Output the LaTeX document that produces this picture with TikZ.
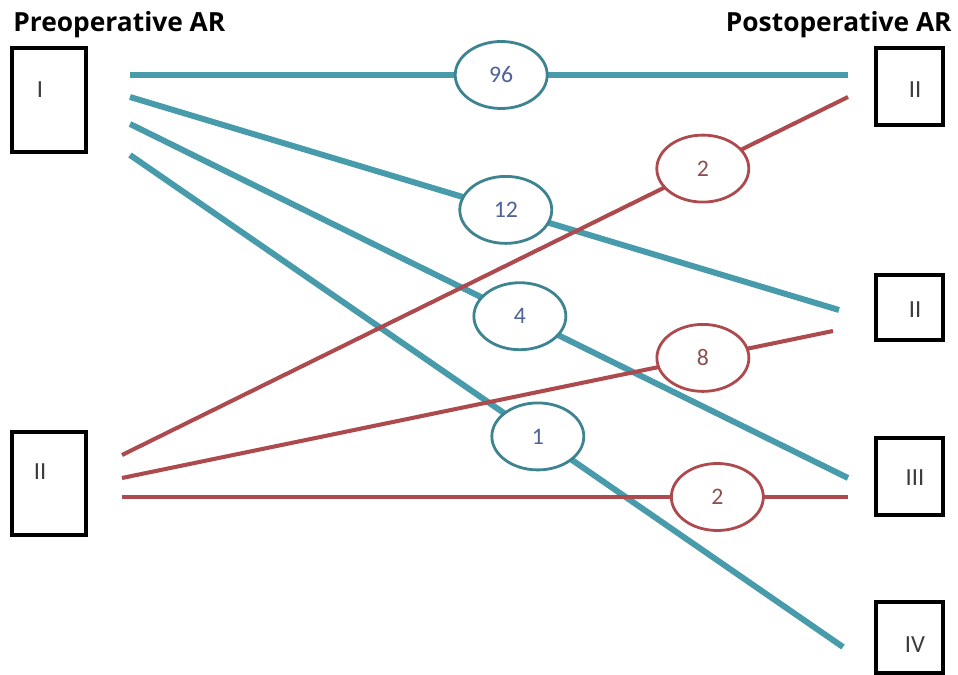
\documentclass[tikz,border=0pt]{standalone}
\usepackage{fontspec}
\setmainfont{Carlito}
\newfontfamily\headfont{Open Sans}
\usetikzlibrary{shapes.geometric, positioning}
\definecolor{flowteal}{RGB}{72,155,170}
\definecolor{flowred}{RGB}{172,74,78}
\definecolor{countblue}{RGB}{78,98,150}
\definecolor{countred}{RGB}{140,80,78}
\definecolor{gradegray}{RGB}{60,60,60}
\tikzstyle{grade} = [rectangle, draw=black, line width=2pt, inner sep=0pt]
\tikzstyle{gradetext} = [text=gradegray, font=\fontsize{14}{16}\selectfont]
\tikzstyle{count} = [ellipse, fill=white, line width=1.6pt, minimum width=1.84cm, minimum height=1.34cm, inner sep=0pt, font=\fontsize{13.5}{15}\selectfont]
\tikzstyle{tealcount} = [count, draw=flowteal!85!black, text=countblue]
\tikzstyle{redcount} = [count, draw=flowred, text=countred]
\tikzstyle{tealflow} = [draw=flowteal, line width=3.4pt]
\tikzstyle{redflow} = [draw=flowred, line width=2.3pt]
\tikzstyle{heading} = [font=\headfont\bfseries\fontsize{15}{18}\selectfont, inner sep=0pt]

\begin{document}
\begin{tikzpicture}[x=0.02cm, y=-0.02cm]
\useasboundingbox (0,0) rectangle (958,675);

% Headings
\node (prehead) [heading, anchor=base west] at (13,32) {Preoperative AR};
\node (posthead) [heading, anchor=base east] at (952,32) {Postoperative AR};

% Grade boxes
\node (pre1) [grade, minimum width=1.48cm, minimum height=2.08cm, label={[gradetext, xshift=-0.18cm, yshift=0.2cm]center:I}] at (49,100) {};
\node (pre2) [grade, minimum width=1.48cm, minimum height=2.06cm, label={[gradetext, xshift=-0.18cm, yshift=0.23cm]center:II}] at (49,483.5) {};
\node (post1) [grade, minimum width=1.34cm, minimum height=1.54cm, label={[gradetext, xshift=0.11cm, yshift=-0.07cm]center:II}] at (909.5,86.5) {};
\node (post2) [grade, minimum width=1.34cm, minimum height=1.3cm, label={[gradetext, xshift=0.11cm, yshift=-0.05cm]center:II}] at (909.5,307.5) {};
\node (post3) [grade, minimum width=1.34cm, minimum height=1.54cm, label={[gradetext, xshift=0.11cm, yshift=-0.03cm]center:III}] at (909.5,476.5) {};
\node (post4) [grade, minimum width=1.34cm, minimum height=1.42cm, label={[gradetext, xshift=0.11cm, yshift=-0.15cm]center:IV}] at (909.5,637.5) {};

% Line ends
\coordinate (t1s) at (130,75);  \coordinate (t1e) at (848,75);
\coordinate (t2s) at (130,97);  \coordinate (t2e) at (839,310);
\coordinate (t3s) at (130,124); \coordinate (t3e) at (848,478);
\coordinate (t4s) at (130,155); \coordinate (t4e) at (843,647);
\coordinate (r1s) at (122,455); \coordinate (r1e) at (848,97);
\coordinate (r2s) at (122,478); \coordinate (r2e) at (833,331);
\coordinate (r3s) at (122,497); \coordinate (r3e) at (848,497);

% Flows from grade I
\draw [tealflow] (t1s) -- node[tealcount, pos=0.517] (n96) {96} (t1e);
\draw [tealflow] (t2s) -- node[tealcount, pos=0.53] (n12) {12} (t2e);
\draw [tealflow] (t3s) -- node[tealcount, pos=0.543] (n4) {4} (t3e);
\draw [tealflow] (t4s) -- node[tealcount, pos=0.572] (n1) {1} (t4e);

% Flows from grade II
\draw [redflow] (r1s) -- node[redcount, pos=0.80] (m2a) {2} (r1e);
\draw [redflow] (r2s) -- node[redcount, pos=0.817] (m8) {8} (r2e);
\draw [redflow] (r3s) -- node[redcount, pos=0.82] (m2b) {2} (r3e);

\end{tikzpicture}
\end{document}
